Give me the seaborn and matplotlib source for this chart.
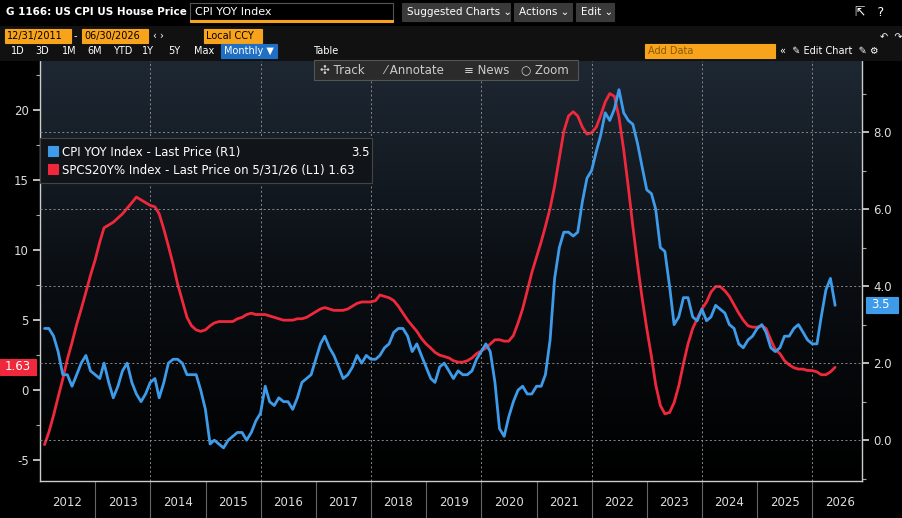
import matplotlib
matplotlib.use("Agg")
import matplotlib.pyplot as plt
import matplotlib.dates as mdates
from matplotlib.colors import LinearSegmentedColormap
from matplotlib.patches import Rectangle
from matplotlib.ticker import MultipleLocator
import numpy as np
import pandas as pd
import seaborn as sns

# CPI YoY (%), monthly Jan 2012 .. May 2026 (right axis)
cpi_yoy = [
    2.9, 2.9, 2.7, 2.3, 1.7, 1.7, 1.4, 1.7, 2.0, 2.2, 1.8, 1.7,
    1.6, 2.0, 1.5, 1.1, 1.4, 1.8, 2.0, 1.5, 1.2, 1.0, 1.2, 1.5,
    1.6, 1.1, 1.5, 2.0, 2.1, 2.1, 2.0, 1.7, 1.7, 1.7, 1.3, 0.8,
    -0.1, 0.0, -0.1, -0.2, 0.0, 0.1, 0.2, 0.2, 0.0, 0.2, 0.5, 0.7,
    1.4, 1.0, 0.9, 1.1, 1.0, 1.0, 0.8, 1.1, 1.5, 1.6, 1.7, 2.1,
    2.5, 2.7, 2.4, 2.2, 1.9, 1.6, 1.7, 1.9, 2.2, 2.0, 2.2, 2.1,
    2.1, 2.2, 2.4, 2.5, 2.8, 2.9, 2.9, 2.7, 2.3, 2.5, 2.2, 1.9,
    1.6, 1.5, 1.9, 2.0, 1.8, 1.6, 1.8, 1.7, 1.7, 1.8, 2.1, 2.3,
    2.5, 2.3, 1.5, 0.3, 0.1, 0.6, 1.0, 1.3, 1.4, 1.2, 1.2, 1.4,
    1.4, 1.7, 2.6, 4.2, 5.0, 5.4, 5.4, 5.3, 5.4, 6.2, 6.8, 7.0,
    7.5, 7.9, 8.5, 8.3, 8.6, 9.1, 8.5, 8.3, 8.2, 7.7, 7.1, 6.5,
    6.4, 6.0, 5.0, 4.9, 4.0, 3.0, 3.2, 3.7, 3.7, 3.2, 3.1, 3.4,
    3.1, 3.2, 3.5, 3.4, 3.3, 3.0, 2.9, 2.5, 2.4, 2.6, 2.7, 2.9,
    3.0, 2.8, 2.4, 2.3, 2.4, 2.7, 2.7, 2.9, 3.0, 2.8, 2.6, 2.5,
    2.5, 3.2, 3.9, 4.2, 3.5,
]

# S&P CoreLogic Case-Shiller 20-city YoY (%), same months (left axis)
spcs20_yoy = [
    -3.9, -3.0, -1.8, -0.5, 0.8, 2.2, 3.4, 4.7, 5.8, 7.0, 8.2, 9.3,
    10.6, 11.6, 11.8, 12.0, 12.3, 12.6, 13.0, 13.4, 13.8, 13.6, 13.4, 13.2,
    13.1, 12.6, 11.5, 10.3, 9.0, 7.6, 6.4, 5.2, 4.6, 4.3, 4.2, 4.3,
    4.6, 4.8, 4.9, 4.9, 4.9, 4.9, 5.1, 5.2, 5.4, 5.5, 5.4, 5.4,
    5.4, 5.3, 5.2, 5.1, 5.0, 5.0, 5.0, 5.1, 5.1, 5.2, 5.4, 5.6,
    5.8, 5.9, 5.8, 5.7, 5.7, 5.7, 5.8, 6.0, 6.2, 6.3, 6.3, 6.3,
    6.4, 6.8, 6.7, 6.6, 6.4, 6.0, 5.5, 5.0, 4.6, 4.2, 3.7, 3.3,
    3.0, 2.7, 2.5, 2.4, 2.3, 2.1, 2.0, 2.0, 2.1, 2.3, 2.6, 2.8,
    3.0, 3.3, 3.6, 3.6, 3.5, 3.5, 3.9, 4.8, 5.8, 7.1, 8.4, 9.5,
    10.6, 11.7, 13.0, 14.6, 16.6, 18.5, 19.6, 19.9, 19.6, 18.8, 18.3, 18.4,
    18.8, 19.6, 20.6, 21.2, 21.0, 19.5, 17.2, 14.5, 11.7, 9.0, 6.6, 4.4,
    2.4, 0.4, -1.1, -1.7, -1.6, -0.9, 0.3, 1.9, 3.3, 4.4, 5.1, 5.8,
    6.3, 7.0, 7.4, 7.4, 7.1, 6.7, 6.1, 5.5, 5.0, 4.6, 4.5, 4.5,
    4.6, 4.4, 3.6, 2.9, 2.6, 2.1, 1.8, 1.6, 1.5, 1.5, 1.4, 1.4,
    1.3, 1.1, 1.1, 1.3, 1.63,
]

dates = pd.date_range("2012-01-31", periods=len(cpi_yoy), freq="ME")
years = list(range(2012, 2027))
left_ticks = [-5, 0, 5, 10, 15, 20]
right_ticks = [0.0, 2.0, 4.0, 6.0, 8.0]

df = pd.DataFrame({"date": dates, "cpi": cpi_yoy, "spcs": spcs20_yoy})

BLUE = "#3d9be9"
RED = "#f0283c"
ORANGE = "#f7a31c"
W, H = 903, 518

sns.set_theme(style="dark")
plt.rcParams["font.family"] = ["DejaVu Sans"]

fig = plt.figure(figsize=(W / 100, H / 100), dpi=100, facecolor="black")


def fx(px):
    return px / W


def fy(py):
    return 1 - py / H


def box(x, y, w, h, fc, ec=None, z=1):
    fig.patches.append(Rectangle((fx(x), fy(y + h)), w / W, h / H, transform=fig.transFigure,
                                 facecolor=fc, edgecolor=ec or fc, lw=0.8, zorder=z))


def label(x, y, s, color="white", size=7.5, z=3, **kw):
    fig.text(fx(x), fy(y), s, color=color, fontsize=size, va="center", zorder=z, **kw)


# ---- header chrome ----
label(6, 12, "G 1166: US CPI US House Price", size=7.5, weight="bold")
box(190, 3, 203, 18, "#000000", "#555555")
box(190, 20, 203, 1.5, ORANGE)
label(195, 12, "CPI YOY Index", size=8)
for x0, w, s in [(402, 108, "Suggested Charts ⌄"), (514, 58, "Actions ⌄"), (576, 38, "Edit ⌄")]:
    box(x0, 3, w, 18, "#3a3a3a")
    label(x0 + 5, 12, s, size=7.5)
label(855, 12, "⇱   ?", size=9)
box(0, 26, W, 34, "#111111")
box(5, 29, 66, 14, ORANGE)
label(7, 36, "12/31/2011", color="black", size=7)
label(74, 36, "-", size=7)
box(82, 29, 66, 14, ORANGE)
label(84, 36, "06/30/2026", color="black", size=7)
label(153, 36, "‹ ›", size=7)
box(204, 29, 58, 14, ORANGE)
label(206, 36, "Local CCY", color="black", size=7)
tabs = ["1D", "3D", "1M", "6M", "YTD", "1Y", "5Y", "Max"]
tx = [11, 35, 62, 87, 113, 142, 168, 194]
for t, x in zip(tabs, tx):
    label(x, 51, t, size=7)
box(221, 44, 56, 14, "#1f6fc5")
label(224, 51, "Monthly ▼", size=7)
label(313, 51, "Table", size=7)
box(645, 44, 130, 14, ORANGE)
label(648, 51, "Add Data", color="#8a5a00", size=7)
label(780, 51, "«  ✎ Edit Chart  ✎ ⚙", size=7)
label(880, 37, "↶  ↷", size=7)

# ---- main chart ----
ax = fig.add_axes([fx(40), fy(481), (862 - 40) / W, (481 - 60) / H])
ax.set_facecolor("black")
ax2 = ax.twinx()

grad = LinearSegmentedColormap.from_list("bg", ["#000000", "#0b0f14", "#1e2833"])
ax.imshow(np.linspace(0, 1, 256).reshape(-1, 1)[::-1], cmap=grad, aspect="auto",
          extent=[0, 1, 0, 1], transform=ax.transAxes, zorder=0)

sns.lineplot(data=df, x="date", y="spcs", ax=ax, color=RED, lw=2.0, zorder=3)
sns.lineplot(data=df, x="date", y="cpi", ax=ax2, color=BLUE, lw=2.0, zorder=3)

ax.set_xlim(pd.Timestamp("2012-01-01"), pd.Timestamp("2026-11-25"))
ax.set_ylim(-6.5, 23.6)
ax2.set_ylim(-1.06, 9.87)
ax.set_yticks(left_ticks)
ax.set_yticklabels([str(t) for t in left_ticks])
ax.yaxis.set_minor_locator(MultipleLocator(2.5))
ax2.set_yticks(right_ticks)
ax2.set_yticklabels([f"{t:.1f}" for t in right_ticks])
ax2.yaxis.set_minor_locator(MultipleLocator(1.0))
for a in (ax, ax2):
    a.set_xlabel("")
    a.set_ylabel("")
    a.tick_params(axis="y", colors="#dddddd", labelsize=8.5, length=5, width=1.2, pad=3)
    a.tick_params(axis="y", which="minor", colors="#aaaaaa", length=3, width=0.8, left=a is ax, right=a is ax2)
    for s in a.spines.values():
        s.set_visible(False)
ax.tick_params(axis="x", length=0)
ax.xaxis.set_major_locator(mdates.YearLocator(2))
ax.xaxis.set_major_formatter(plt.NullFormatter())
ax.grid(True, axis="x", color="#8a8a8a", ls=(0, (2, 2.5)), lw=0.7)
ax.grid(False, axis="y")
ax2.grid(True, axis="y", color="#8a8a8a", ls=(0, (2, 2.5)), lw=0.7)
ax2.grid(False, axis="x")
ax.spines["left"].set_visible(True)
ax.spines["bottom"].set_visible(True)
ax2.spines["right"].set_visible(True)
for s in (ax.spines["left"], ax.spines["bottom"], ax2.spines["right"]):
    s.set_color("#cccccc")
    s.set_linewidth(1.0)

# year strip at bottom
for y in years:
    mid = mdates.date2num(pd.Timestamp(f"{y}-07-01"))
    ax.text(mid, -0.05, str(y), transform=ax.get_xaxis_transform(), ha="center", va="center",
            color="#dddddd", fontsize=8.5, clip_on=False)
    if y > 2012:
        ax.plot([pd.Timestamp(f"{y}-01-01")] * 2, [0, -0.09], transform=ax.get_xaxis_transform(),
                color="#666666", lw=0.8, clip_on=False)

# legend
box(40, 138, 332, 45, "#111418", "#444444", z=4)
box(48, 146, 10, 10, BLUE, z=5)
box(48, 164, 10, 10, RED, z=5)
label(62, 152, "CPI YOY Index - Last Price (R1)", size=8.5, z=6)
label(351, 152, "3.5", size=8.5, z=6)
label(62, 170, "SPCS20Y% Index - Last Price on 5/31/26 (L1) 1.63", size=8.5, z=6)

# last value tags
box(0, 359, 36, 16, RED)
label(5, 367, "1.63", size=8.5)
box(866, 297, 32, 16, BLUE)
label(871, 305, "3.5", size=8.5)

# toolbar overlay
box(314, 60, 264, 20, "#2b2b2b", "#555555", z=4)
for x, s in [(320, "✣ Track"), (384, "⁄ Annotate"), (464, "≡ News"), (521, "○ Zoom")]:
    label(x, 70, s, color="#cccccc", size=8.5, z=6)

fig.savefig("out.png", dpi=100, facecolor="black")
